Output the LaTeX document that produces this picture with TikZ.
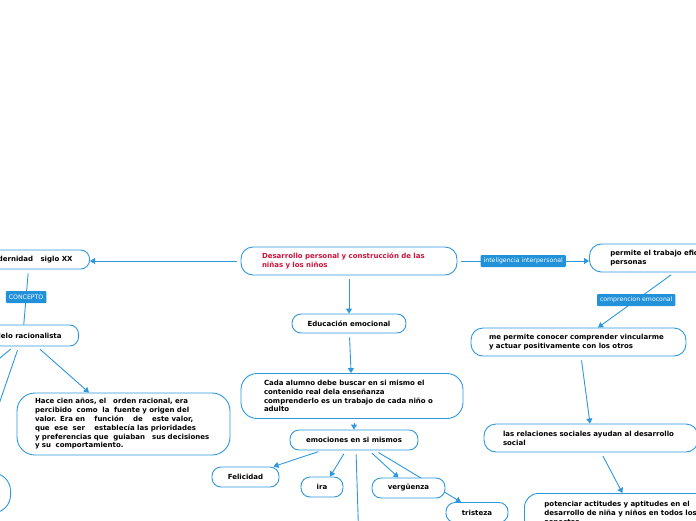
\documentclass[tikz,border=0pt]{standalone}
\usepackage{fontspec}
\setmainfont{DejaVu Sans}
\usetikzlibrary{arrows.meta,backgrounds}
\definecolor{linkblue}{RGB}{45,152,222}
\definecolor{tagblue}{RGB}{33,145,218}
\definecolor{titlered}{RGB}{204,18,58}
\tikzset{
  idea/.style={draw=linkblue, line width=0.9pt, rounded corners=9pt, fill=white,
    font=\bfseries\fontsize{7}{8.8}\selectfont, inner ysep=3pt},
  note/.style={idea, align=left, inner xsep=20pt},
  tag/.style={fill=tagblue, text=white, font=\fontsize{6.2}{7}\selectfont,
    inner xsep=3pt, inner ysep=0pt, minimum height=12pt, rounded corners=1pt},
  link/.style={draw=linkblue, line width=0.9pt, shorten <=4pt},
  arrow/.style={link, -{Triangle[length=5pt,width=6pt]}},
}
\begin{document}
\begin{tikzpicture}[x=1pt,y=-1pt]
\useasboundingbox (0,0) rectangle (696,520);

\node[note, text=titlered, text width=174pt, inner xsep=21pt, minimum height=28pt, rounded corners=12pt] (main) at (349,261)
  {Desarrollo personal y construcción de las\\niñas y los niños};

% left branch
\node[idea, anchor=east, inner xsep=17pt, minimum height=19pt] (modern) at (90,259.5) {Modernidad\ \ \ siglo XX};
\node[idea, anchor=east, inner xsep=17pt, minimum height=21pt] (modelo) at (79,335.5) {Modelo racionalista};
\node[note, text width=177pt, inner xsep=18pt, minimum height=62pt, rounded corners=18pt] (hace) at (123.5,424)
  {Hace cien años, el\ \ \ orden racional, era\\
   percibido\ \ como\ \ la\ \ fuente y origen del\\
   valor. Era en\ \ \ \ función\ \ \ \ de\ \ \ \ este valor,\\
   que\ \ ese\ \ ser\ \ \ \ establecía las prioridades\\
   y preferencias que\ \ guiaban\ \ \ sus decisiones\\
   y su\ \ comportamiento.};
\node[idea, anchor=east, minimum width=90pt, minimum height=40pt, rounded corners=18pt] (side) at (11,493) {};
\coordinate (offa) at (-25,379);
\coordinate (offb) at (-12,436);

% middle branch
\node[idea, minimum width=114pt, minimum height=19pt] (educ) at (349,323.5) {Educación emocional};
\node[note, text width=176pt, inner xsep=23pt, minimum height=45pt, rounded corners=16pt] (cada) at (352,396)
  {Cada alumno debe buscar en si mismo el\\contenido real dela enseñanza\\comprenderlo es un trabajo de cada niño o\\adulto};
\node[idea, minimum width=128pt, minimum height=20pt] (emoc) at (354,440) {emociones en si mismos};
\node[idea, minimum width=67pt, minimum height=20pt] (felic) at (245.5,477) {Felicidad};
\node[idea, minimum width=42pt, minimum height=20pt] (ira) at (322,487) {ira};
\node[idea, minimum width=73pt, minimum height=20pt] (verg) at (408.5,488) {vergüenza};
\node[idea, minimum width=62pt, minimum height=20pt] (trist) at (477,512.5) {tristeza};
\coordinate (offc) at (359,545);

% right branch
\node[note, anchor=west, text width=170pt, inner xsep=21pt, minimum height=28pt, rounded corners=12pt] (permite) at (589,258)
  {permite el trabajo eficaz\\personas};
\node[note, text width=179pt, inner xsep=18pt, minimum height=28pt, rounded corners=12pt] (mepermite) at (578.5,342)
  {me permite conocer comprender vincularme\\y actuar positivamente con los otros};
\node[note, text width=176pt, inner xsep=19pt, minimum height=28pt, rounded corners=12pt] (relac) at (591,438)
  {las relaciones sociales ayudan al desarrollo\\social};
\node[note, anchor=north west, text width=182pt, inner xsep=20pt, inner ysep=8pt, rounded corners=14pt] (poten) at (524,493)
  {potenciar actitudes y aptitudes en el\\desarrollo de niña y niños en todos los\\aspectos};

\begin{scope}[on background layer]
  \draw[arrow] (main.west) -- (modern.east |- main.west);
  \draw[link] (modern) -- node[tag]{CONCEPTO} (modelo);
  \draw[arrow] ([xshift=14pt]modelo.south) -- ([xshift=-34.5pt]hace.north);
  \draw[arrow] ([xshift=-9pt]modelo.south) -- (offa);
  \draw[arrow] ([xshift=-4pt]modelo.south) -- (offb);

  \draw[arrow] (main) -- (educ);
  \draw[arrow] (educ) -- (cada);
  \draw[arrow] (cada.south -| emoc.north) -- (emoc.north);
  \draw[arrow] ([xshift=-32pt]emoc.south) -- ([xshift=28pt]felic.north);
  \draw[arrow] ([xshift=-8pt]emoc.south) -- ([xshift=8pt]ira.north);
  \draw[arrow] ([xshift=15pt]emoc.south) -- ([xshift=-10pt]verg.north);
  \draw[arrow] ([xshift=21pt]emoc.south) -- ([xshift=-16pt]trist.north);
  \draw[arrow] ([xshift=2pt]emoc.south) -- (offc);

  \draw[arrow] (main.east) -- node[tag]{inteligencia interpersonal} (permite.west |- main.east);
  \draw[arrow] ([xshift=-21pt]permite.south) -- node[tag]{comprencion emoconal} ([xshift=19.5pt]mepermite.north);
  \draw[arrow] ([xshift=2.5pt]mepermite.south) -- ([xshift=-1pt]relac.north);
  \draw[arrow] ([xshift=10pt]relac.south) -- ([xshift=-13pt]poten.north);
\end{scope}
\end{tikzpicture}
\end{document}
